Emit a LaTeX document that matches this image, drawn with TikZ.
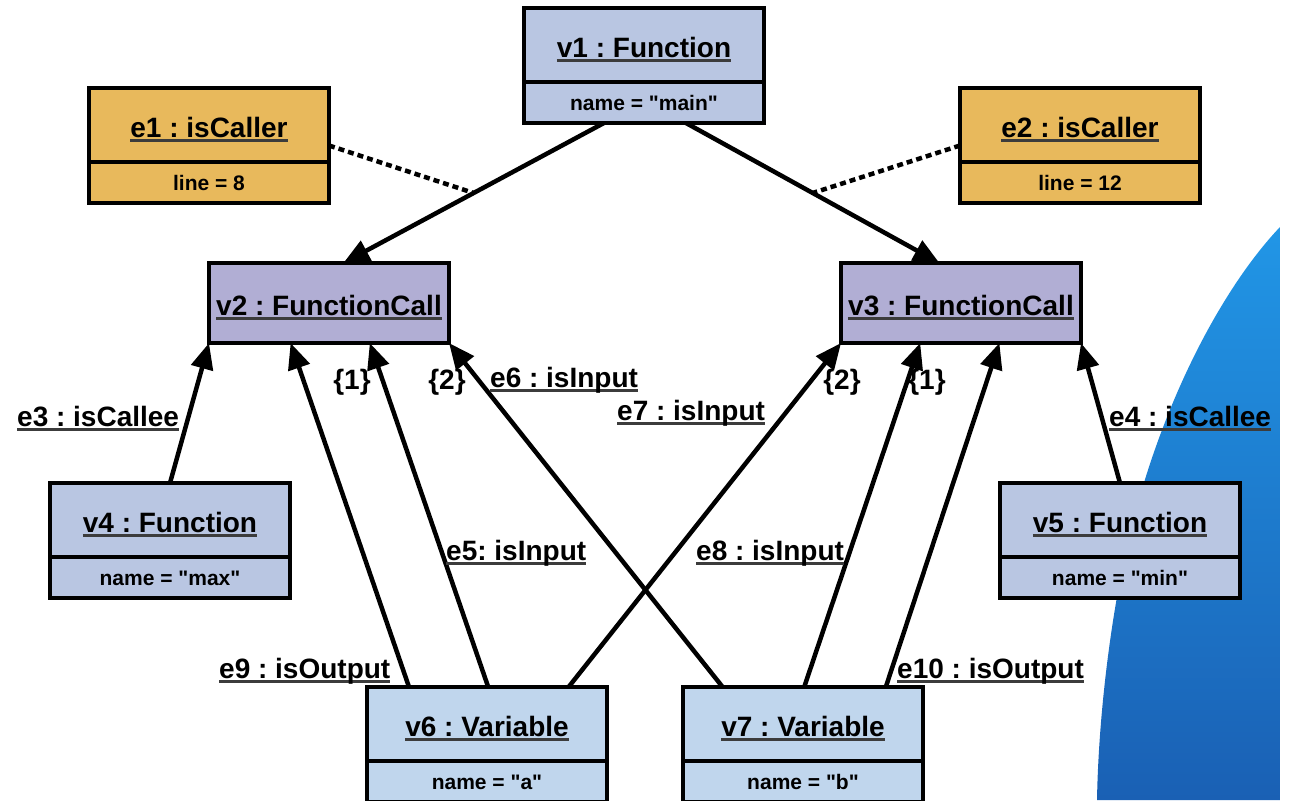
\documentclass[tikz,border=0pt]{standalone}
\usepackage{fontspec}
\setmainfont{Liberation Sans}[Ligatures=TeXOff]
\usetikzlibrary{arrows.meta,calc}
\definecolor{fnc}{RGB}{185,198,226}
\definecolor{callc}{RGB}{177,174,212}
\definecolor{varc}{RGB}{192,214,237}
\definecolor{edgec}{RGB}{232,185,92}
\definecolor{ulgray}{RGB}{60,60,60}
\definecolor{bluetop}{RGB}{33,150,230}
\definecolor{bluebot}{RGB}{26,96,180}
\newsavebox\ulsave
\newcommand{\ulx}[1]{\sbox\ulsave{#1}\rlap{\color{ulgray}\rule[-4.5pt]{\wd\ulsave}{3pt}}\usebox\ulsave}
\newcommand{\dq}{"}
\frenchspacing
\tikzset{
  objtitle/.style={draw, line width=4.5pt, minimum width=240pt, minimum height=74pt,
    inner sep=0pt, outer sep=0pt, anchor=north west, text height=28pt, text depth=4pt,
    font=\bfseries\fontsize{28}{32}\selectfont},
  calltitle/.style={objtitle, minimum height=80pt, fill=callc},
  objattr/.style={draw, line width=4.5pt, minimum width=240pt, minimum height=41pt,
    inner sep=0pt, outer sep=0pt, anchor=north, text height=15pt, text depth=0pt,
    font=\bfseries\fontsize{21}{24}\selectfont},
  elabel/.style={anchor=base west, inner sep=0pt, font=\bfseries\fontsize{28}{32}\selectfont},
  mult/.style={anchor=base, inner sep=0pt, font=\bfseries\fontsize{28}{32}\selectfont},
  arr/.style={line width=4.5pt, -{Triangle[length=26pt,width=22pt]}},
  dotline/.style={line width=4.5pt, dash pattern=on 6pt off 4pt},
}
\begin{document}
\begin{tikzpicture}[x=1pt,y=-1pt]
\useasboundingbox (0,0) rectangle (1289,800);
\clip (0,0) rectangle (1289,800);
% background blue shape
\shade[top color=bluetop, bottom color=bluebot]
  (1280,227) .. controls (1220,290) and (1150,420) .. (1120,580)
  .. controls (1105,660) and (1098,740) .. (1097,800) -- (1280,800) -- cycle;

% objects
\node[objtitle, fill=fnc] (v1) at (524,8) {\ulx{v1 : Function}};
\node[objattr, fill=fnc] (v1a) at (v1.south) {name = \dq main\dq};

\node[objtitle, fill=edgec] (e1) at (89,88) {\ulx{e1 : isCaller}};
\node[objattr, fill=edgec] (e1a) at (e1.south) {line = 8};

\node[objtitle, fill=edgec] (e2) at (960,88) {\ulx{e2 : isCaller}};
\node[objattr, fill=edgec] (e2a) at (e2.south) {line = 12};

\node[calltitle] (v2) at (209,263) {\ulx{v2 : FunctionCall}};
\node[calltitle] (v3) at (841,263) {\ulx{v3 : FunctionCall}};

\node[objtitle, fill=fnc] (v4) at (50,483) {\ulx{v4 : Function}};
\node[objattr, fill=fnc] (v4a) at (v4.south) {name = \dq max\dq};

\node[objtitle, fill=fnc] (v5) at (1000,483) {\ulx{v5 : Function}};
\node[objattr, fill=fnc] (v5a) at (v5.south) {name = \dq min\dq};

\node[objtitle, fill=varc] (v6) at (367,687) {\ulx{v6 : Variable}};
\node[objattr, fill=varc] (v6a) at (v6.south) {name = \dq a\dq};

\node[objtitle, fill=varc] (v7) at (683,687) {\ulx{v7 : Variable}};
\node[objattr, fill=varc] (v7a) at (v7.south) {name = \dq b\dq};

% connectors
\draw[arr] ($(v1a.south west)!0.333!(v1a.south east)$) -- coordinate (m12)
  ($(v2.north west)!0.56!(v2.north east)$);
\draw[arr] ($(v1a.south west)!0.675!(v1a.south east)$) -- coordinate (m13)
  ($(v3.north west)!0.41!(v3.north east)$);
\draw[dotline] ($(e1.north east)!0.5!(e1a.south east)$) -- (m12);
\draw[dotline] ($(e2.north west)!0.5!(e2a.south west)$) -- (m13);

\draw[arr] (v4.north) -- (v2.south west);
\draw[arr] (v5.north) -- (v3.south east);

\draw[arr] ($(v6.north west)!0.175!(v6.north east)$) -- ($(v2.south west)!0.34!(v2.south east)$);
\draw[arr] ($(v6.north west)!0.505!(v6.north east)$) -- ($(v2.south west)!0.67!(v2.south east)$);
\draw[arr] ($(v6.north west)!0.84!(v6.north east)$) -- (v3.south west);

\draw[arr] ($(v7.north west)!0.165!(v7.north east)$) -- (v2.south east);
\draw[arr] ($(v7.north west)!0.505!(v7.north east)$) -- ($(v3.south west)!0.33!(v3.south east)$);
\draw[arr] ($(v7.north west)!0.845!(v7.north east)$) -- ($(v3.south west)!0.66!(v3.south east)$);

% labels
\node[elabel] (l3) at (17,426) {\ulx{e3 : isCallee}};
\node[elabel] (l4) at (1109,426) {\ulx{e4 : isCallee}};
\node[elabel] (l5) at (446,560) {\ulx{e5: isInput}};
\node[elabel] (l6) at (490,387) {\ulx{e6 : isInput}};
\node[elabel] (l7) at (617,420) {\ulx{e7 : isInput}};
\node[elabel] (l8) at (696,560) {\ulx{e8 : isInput}};
\node[elabel] (l9) at (219,678) {\ulx{e9 : isOutput}};
\node[elabel] (l10) at (897,678) {\ulx{e10 : isOutput}};

\node[mult] (m1) at (352,389) {\{1\}};
\node[mult] (m2) at (447,389) {\{2\}};
\node[mult] (m3) at (842,389) {\{2\}};
\node[mult] (m4) at (927,389) {\{1\}};
\end{tikzpicture}
\end{document}
